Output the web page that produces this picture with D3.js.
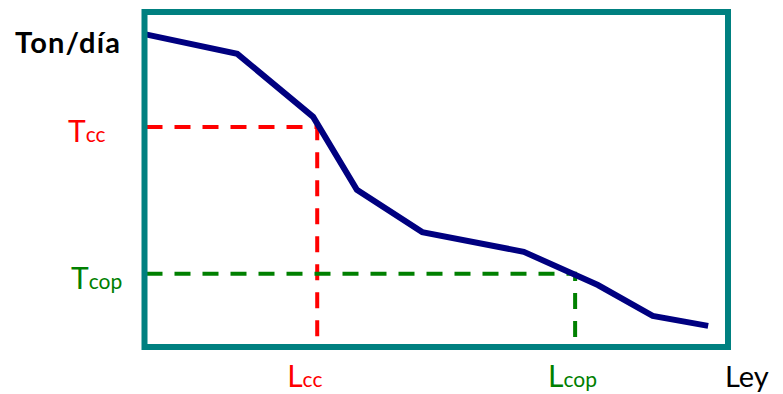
<!DOCTYPE html>
<html><head><meta charset="utf-8">
<script src="https://cdn.jsdelivr.net/npm/d3@7"></script>
<style>html,body{margin:0;padding:0;background:#fff;}svg{display:block;}</style>
</head><body>
<svg id="c" width="783" height="394"></svg>
<script>
// Data (abstract units: Ley 0-100, Ton/día 0-100)
const ley = [0, 15.9, 28.9, 36.4, 47.6, 65.0, 77.7, 87.1, 96.6];
const ton = [93.4, 87.5, 68.7, 46.9, 34.3, 28.4, 18.5, 9.3, 6.3];
const refNames = ["cc", "cop"];
const refLey = [29.6, 73.8];
const refTon = [65.7, 21.9];
const refColors = ["#ff0000", "#008000"];
const yTitle = "Ton/día";
const xTitle = "Ley";

const svg = d3.select("#c");
const x = d3.scaleLinear().domain([0, 100]).range([144.5, 728]);
const y = d3.scaleLinear().domain([0, 100]).range([347, 12]);
const font = "Lato, 'Noto Sans', sans-serif";

// reference dashed lines
refNames.forEach((n, i) => {
  svg.append("path")
    .attr("d", d3.line()([[x(0) + 2, y(refTon[i])], [x(refLey[i]), y(refTon[i])], [x(refLey[i]), y(0)]]))
    .attr("fill", "none").attr("stroke", refColors[i]).attr("stroke-width", 4)
    .attr("stroke-dasharray", "16,12");
});

// curve
const pts = ley.map((v, i) => [x(v), y(ton[i])]);
svg.append("path")
  .attr("d", d3.line()(pts))
  .attr("fill", "none").attr("stroke", "#000080").attr("stroke-width", 6)
  .attr("stroke-linejoin", "miter");

// frame
svg.append("rect")
  .attr("x", x(0)).attr("y", y(100))
  .attr("width", x(100) - x(0)).attr("height", y(0) - y(100))
  .attr("fill", "none").attr("stroke", "#008080").attr("stroke-width", 6);

// y labels
refNames.forEach((n, i) => {
  const t = svg.append("text")
    .attr("x", i === 0 ? 68 : 71).attr("y", y(refTon[i]) + 15)
    .attr("fill", refColors[i]).attr("font-family", font);
  t.append("tspan").attr("font-size", 30).text("T");
  t.append("tspan").attr("font-size", 21).text(n);
});
// x labels
refNames.forEach((n, i) => {
  const t = svg.append("text")
    .attr("x", x(refLey[i]) - (i === 0 ? 30 : 27)).attr("y", 387)
    .attr("fill", refColors[i]).attr("font-family", font);
  t.append("tspan").attr("font-size", 30).text("L");
  t.append("tspan").attr("font-size", 21).text(n);
});

svg.append("text").attr("x", 15).attr("y", 53)
  .attr("font-family", font).attr("font-weight", "bold").attr("font-size", 29)
  .attr("textLength", 105).attr("lengthAdjust", "spacing")
  .attr("fill", "#000").text(yTitle);
svg.append("text").attr("x", 725).attr("y", 387)
  .attr("font-family", font).attr("font-size", 29)
  .attr("fill", "#000").text(xTitle);
</script>
</body></html>
